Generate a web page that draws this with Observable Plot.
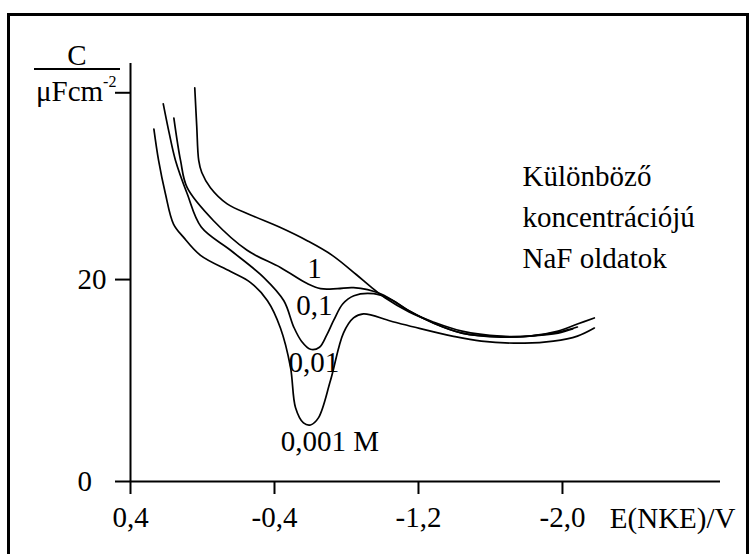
<!DOCTYPE html>
<html>
<head>
<meta charset="utf-8">
<script src="https://cdn.jsdelivr.net/npm/d3@7"></script>
<script src="https://cdn.jsdelivr.net/npm/@observablehq/plot@0.6"></script>
<style>
  body { margin: 0; background: #fff; }
  #wrap { position: relative; width: 754px; height: 554px; overflow: hidden; background: #fff;
          font-family: "Liberation Serif", "Times New Roman", Times, Tinos, "Nimbus Roman", "FreeSerif", "DejaVu Serif", "Noto Serif", serif; color: #000; }
  #frame { position: absolute; left: 7px; top: 13px; width: 742px; height: 620px; box-sizing: border-box;
           border: 3px solid #000; border-bottom: none; }
  #chart { position: absolute; left: 0; top: 0; }
  .ylab { position: absolute; font-size: 29px; line-height: 29px; white-space: nowrap; }
  #ylC { left: 34px; width: 86px; text-align: center; top: 41px; }
  #ylBar { position: absolute; left: 34px; top: 68px; width: 86px; height: 2px; background: #000; }
  #ylU { left: 36px; top: 77px; }
  #ylU sup { font-size: 16px; position: relative; top: -3px; vertical-align: top; line-height: 16px; }
</style>
</head>
<body>
<div id="wrap">
  <div id="frame"></div>
  <div id="chart"></div>
  <div class="ylab" id="ylC">C</div>
  <div id="ylBar"></div>
  <div class="ylab" id="ylU">μFcm<sup>-2</sup></div>
</div>
<script>
// ---- data (E in V vs NKE, C in µF cm^-2) ----
const seriesNames = ["1", "0,1", "0,01", "0,001"];

const E_1 = [0.043, 0.032, 0.021, 0.004, -0.044, -0.137, -0.267, -0.427, -0.587, -0.721, -0.854, -0.934, -1.014, -1.148, -1.282, -1.442, -1.656, -1.816, -1.976, -2.083, -2.177];
const C_1 = [39.0, 35.2, 31.8, 30.6, 29.1, 27.5, 26.4, 25.2, 23.8, 22.4, 20.5, 19.3, 18.2, 16.8, 15.8, 14.9, 14.4, 14.4, 14.9, 15.6, 16.2];

const E_01 = [0.159, 0.122, 0.085, -0.063, -0.248, -0.433, -0.582, -0.656, -0.750, -0.839, -0.989, -1.148, -1.282, -1.442, -1.656, -1.816, -1.976, -2.083];
const C_01 = [36.0, 31.8, 29.1, 25.8, 22.9, 21.2, 19.6, 19.1, 19.1, 19.2, 18.6, 16.9, 15.7, 14.7, 14.35, 14.4, 14.8, 15.3];

const E_001 = [0.218, 0.185, 0.150, 0.085, 0.007, -0.156, -0.341, -0.452, -0.507, -0.550, -0.600, -0.650, -0.690, -0.730, -0.780, -0.841, -0.952, -1.050, -1.148, -1.282, -1.442, -1.656, -1.816, -1.976, -2.056];
const C_001 = [37.4, 34.5, 31.8, 28.5, 25.2, 22.9, 20.2, 17.9, 15.3, 13.9, 13.1, 13.3, 14.5, 16.0, 17.6, 18.4, 18.6, 18.0, 16.9, 15.7, 14.7, 14.3, 14.4, 14.7, 15.1];

const E_0001 = [0.270, 0.244, 0.206, 0.161, 0.106, 0.011, -0.156, -0.267, -0.361, -0.433, -0.489, -0.517, -0.561, -0.600, -0.644, -0.711, -0.783, -0.839, -0.894, -1.044, -1.175, -1.388, -1.549, -1.789, -1.949, -2.083, -2.177];
const C_0001 = [34.9, 31.8, 28.5, 25.5, 24.2, 22.4, 20.8, 19.7, 17.9, 15.2, 11.3, 7.3, 5.8, 5.6, 6.3, 10.0, 14.7, 16.2, 16.6, 15.9, 15.3, 14.4, 13.9, 13.7, 13.9, 14.4, 15.2];

// curve labels (text, E, C at label baseline)
const labelTexts = ["1", "0,1", "0,01", "0,001 M"];
const labelE = [-0.622, -0.622, -0.619, -0.708];
const labelC = [20.2, 16.5, 10.8, 3.0];

// annotation block
const noteText = "Különböző\nkoncentrációjú\nNaF oldatok";
const noteE = -1.778;
const noteC = 21.1;

// axes
const xTicks = [0.4, -0.4, -1.2, -2.0];
const yTicks = [0, 20, 38.5];
const yLabelTicks = [0, 20];
const xLabel = "E(NKE)/V";

// ---- build ----
const seriesE = [E_1, E_01, E_001, E_0001];
const seriesC = [C_1, C_01, C_001, C_0001];
const rows = seriesNames.flatMap((name, k) => seriesE[k].map((e, i) => ({series: name, E: e, C: seriesC[k][i]})));
const labels = labelTexts.map((t, i) => ({text: t, E: labelE[i], C: labelC[i]}));

const font = "'Liberation Serif', 'Times New Roman', Times, Tinos, 'Nimbus Roman', FreeSerif, 'DejaVu Serif', 'Noto Serif', serif";
const plot = Plot.plot({
  width: 754,
  height: 554,
  marginLeft: 130,
  marginRight: 34,
  marginTop: 63,
  marginBottom: 73,
  style: {fontFamily: font, fontSize: "29px", color: "#000", background: "transparent", overflow: "visible"},
  x: {domain: [0.4, -2.878], axis: null},
  y: {domain: [0, 41.4], axis: null},
  marks: [
    Plot.ruleX([0.4], {stroke: "#000", strokeWidth: 2}),
    Plot.ruleY([0], {stroke: "#000", strokeWidth: 2}),
    Plot.axisX({ticks: xTicks, tickSize: 13, tickPadding: 12, strokeWidth: 2, fontSize: 29, label: null,
      tickFormat: d => d.toFixed(1).replace(".", ",")}),
    Plot.axisY({ticks: yTicks, tickSize: 15, strokeWidth: 2, text: null, label: null}),
    Plot.axisY({ticks: yLabelTicks, tickSize: 0, tickPadding: 18, fontSize: 29, label: null,
      textAnchor: "start", dx: -35, tickFormat: d => String(d)}),
    Plot.line(rows, {x: "E", y: "C", z: "series", curve: "catmull-rom", stroke: "#000", strokeWidth: 1.7}),
    Plot.text(labels, {x: "E", y: "C", text: "text", lineAnchor: "bottom", fontSize: 29, fill: "#000"}),
    Plot.text([noteText], {x: () => noteE, y: () => noteC, text: d => d, textAnchor: "start",
      lineAnchor: "bottom", lineHeight: 1.43, fontSize: 29, fill: "#000"}),
    Plot.text([xLabel], {frameAnchor: "bottom-right", text: d => d, textAnchor: "end", lineAnchor: "bottom",
      dx: 15, dy: 46, fontSize: 29, fill: "#000"})
  ]
});
document.getElementById("chart").appendChild(plot);
</script>
</body>
</html>
